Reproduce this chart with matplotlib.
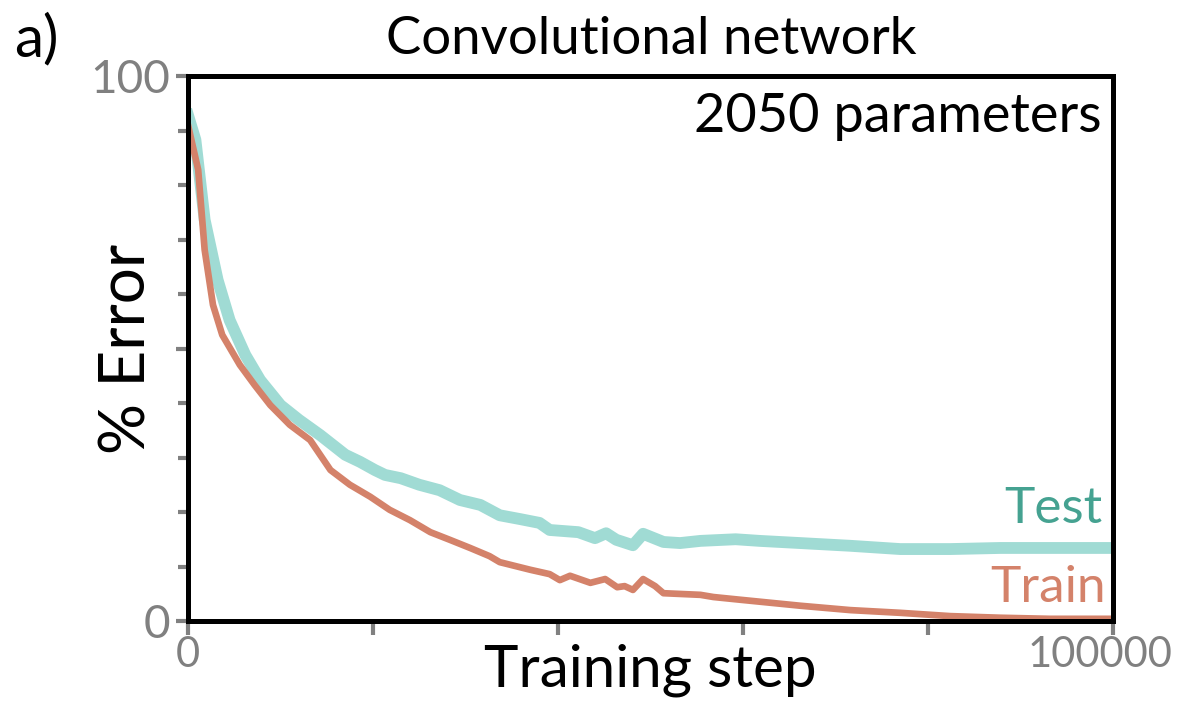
import matplotlib.pyplot as plt
from matplotlib.transforms import ScaledTranslation

plt.rcParams['font.family'] = ['Lato', 'DejaVu Sans']

# test error curve (step, % error)
test_steps = [0, 800, 1800, 3200, 4500, 6200, 7800, 10000, 12000, 14300, 17000,
              18600, 20200, 21300, 23000, 25000, 27200, 29400, 31600, 33700,
              35900, 38000, 39100, 42200, 44000, 45200, 46300, 48100, 49200,
              51400, 53200, 55400, 59200, 61800, 66200, 71600, 77000, 82400,
              87800, 93200, 100000]
test_err = [92.8, 88.3, 73.6, 62.6, 55.2, 48.8, 44.2, 39.6, 36.9, 34.1, 30.5,
            29.2, 27.7, 26.8, 26.2, 25.0, 24.0, 22.2, 21.3, 19.4,
            18.7, 18.0, 16.7, 16.3, 15.2, 16.1, 14.9, 13.9, 16.0,
            14.5, 14.3, 14.7, 15.0, 14.7, 14.3, 13.8, 13.2, 13.2,
            13.4, 13.4, 13.4]

# train error curve
train_steps = [0, 1100, 1800, 2700, 3700, 5600, 7200, 8900, 11000, 13200, 15400,
               17500, 19700, 21800, 24000, 26200, 28300, 30500, 32600, 33700,
               37000, 39100, 40200, 41300, 43500, 45100, 46400, 47200, 48100,
               49200, 50500, 51400, 55400, 56800, 59700, 66200, 71600, 77000,
               82400, 87800, 93200, 100000]
train_err = [91.0, 82.8, 68.1, 58.0, 52.5, 47.0, 43.3, 39.6, 36.0, 33.2, 27.7,
             25.0, 22.8, 20.4, 18.5, 16.3, 14.9, 13.4, 11.9, 10.8,
             9.4, 8.6, 7.5, 8.3, 7.0, 7.7, 6.2, 6.4, 5.7,
             7.7, 6.4, 5.1, 4.8, 4.4, 3.9, 2.8, 2.0, 1.5,
             0.9, 0.6, 0.4, 0.4]

test_line = '#a0dbd4'
test_text = '#45a291'
train_col = '#d4826a'
grey = '#808080'

fig = plt.figure(figsize=(11.81, 7.09), dpi=100)
ax = fig.add_axes([188 / 1181, 1 - 621 / 709, (1113 - 188) / 1181, (621 - 76) / 709])

ax.plot(test_steps, test_err, color=test_line, lw=8.5, solid_joinstyle='round', zorder=2)
ax.plot(train_steps, train_err, color=train_col, lw=4.8, solid_joinstyle='round', zorder=3)

ax.set_xlim(0, 100000)
ax.set_ylim(0, 100)

for s in ax.spines.values():
    s.set_linewidth(3.6)
    s.set_color('black')
    s.set_zorder(5)

ax.set_yticks([0, 50, 100])
ax.set_yticklabels(['0', '', '100'])
ax.set_yticks([10, 20, 30, 40, 60, 70, 80, 90], minor=True)
ax.tick_params(axis='y', which='major', length=9, width=3, color=grey,
               labelcolor=grey, labelsize=33, pad=4)
ax.tick_params(axis='y', which='minor', length=7, width=3, color=grey)

ax.set_xticks([0, 20000, 40000, 60000, 80000, 100000])
ax.set_xticklabels(['0', '', '', '', '', '100000'])
ax.tick_params(axis='x', which='major', length=10, width=3, color=grey,
               labelcolor=grey, labelsize=30, pad=1)
lbl = ax.get_xticklabels()[-1]
lbl.set_transform(lbl.get_transform() + ScaledTranslation(-0.13, 0, fig.dpi_scale_trans))

ax.set_xlabel('Training step', fontsize=42, labelpad=-22)
ax.set_ylabel('% Error', fontsize=46, labelpad=-48)

fig.text(651 / 1181, 1 - 40 / 709, 'Convolutional network', fontsize=38,
         ha='center', va='center')
ax.text(0.988, 0.925, '2050 parameters', transform=ax.transAxes, fontsize=39,
        ha='right', va='center')
fig.text(14 / 1181, 1 - 40 / 709, 'a)', fontsize=42, ha='left', va='center')

ax.text(0.988, 0.205, 'Test', transform=ax.transAxes, fontsize=37,
        color=test_text, ha='right', va='center')
ax.text(0.992, 0.06, 'Train', transform=ax.transAxes, fontsize=37,
        color=train_col, ha='right', va='center')

fig.savefig('out.png', dpi=100)
